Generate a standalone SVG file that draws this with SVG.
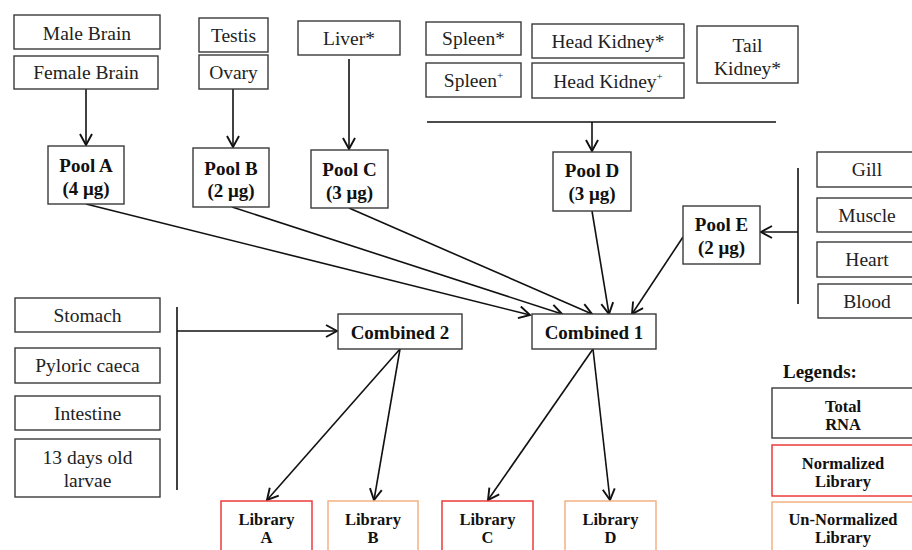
<svg xmlns="http://www.w3.org/2000/svg" width="912" height="550" viewBox="0 0 912 550">
<style>
.box{fill:#fff;stroke:#3a3a3a;stroke-width:1.4}
.red{fill:#fff;stroke:#EE3B3B;stroke-width:1.5}
.org{fill:#fff;stroke:#F4B183;stroke-width:1.5}
.t{font-family:"Liberation Serif","Times New Roman",serif;font-size:19.5px;fill:#222;text-anchor:middle}
.b{font-family:"Liberation Serif","Times New Roman",serif;font-size:19px;font-weight:bold;fill:#111;text-anchor:middle}
.s{font-family:"Liberation Serif","Times New Roman",serif;font-size:16.5px;font-weight:bold;fill:#111;text-anchor:middle}
.ln{stroke:#111;stroke-width:1.6;fill:none}
.ar{stroke:#111;stroke-width:1.6;fill:none;marker-end:url(#ah)}
</style>
<defs>
<marker id="ah" markerUnits="userSpaceOnUse" markerWidth="16" markerHeight="16" viewBox="0 0 16 16" refX="13" refY="8" orient="auto">
<path d="M2,2 L13,8 L2,14" fill="none" stroke="#111" stroke-width="1.9"/>
</marker>
</defs>
<rect width="912" height="550" fill="#fff"/>

<g id="connectors">
<path class="ar" d="M86,89 L86,145"/>
<path class="ar" d="M233,89 L233,147"/>
<path class="ar" d="M349,59 L349,149"/>
<path class="ln" d="M427,122 L776,122"/>
<path class="ar" d="M592,122 L592,151"/>
<path class="ar" d="M86,204 L530,315"/>
<path class="ar" d="M232,207 L562,314"/>
<path class="ar" d="M349,208 L592,314"/>
<path class="ar" d="M592,211 L609,314"/>
<path class="ar" d="M683,237 L632,314"/>
<path class="ln" d="M798,168 L798,304"/>
<path class="ar" d="M798,232 L761,232"/>
<path class="ln" d="M177,307 L177,490"/>
<path class="ar" d="M177,331 L337,331"/>
<path class="ar" d="M400,349 L267,500"/>
<path class="ar" d="M400,349 L374,500"/>
<path class="ar" d="M593,349 L488,500"/>
<path class="ar" d="M593,349 L610,500"/>
</g>

<g id="male-brain"><rect class="box" x="14" y="15" width="146" height="34"/><text class="t" x="87" y="40">Male Brain</text></g>
<g id="female-brain"><rect class="box" x="14" y="56" width="144" height="33"/><text class="t" x="86" y="79">Female Brain</text></g>
<g id="testis"><rect class="box" x="199" y="18" width="69" height="34"/><text class="t" x="233.5" y="42">Testis</text></g>
<g id="ovary"><rect class="box" x="199" y="55" width="69" height="34"/><text class="t" x="233.5" y="79">Ovary</text></g>
<g id="liver"><rect class="box" x="298" y="21" width="102" height="34"/><text class="t" x="349" y="45">Liver*</text></g>
<g id="spleen1"><rect class="box" x="426" y="22" width="95" height="33"/><text class="t" x="473.5" y="45">Spleen*</text></g>
<g id="spleen2"><rect class="box" x="426" y="63" width="95" height="34"/><text class="t" x="473.5" y="87">Spleen<tspan font-size="11" dy="-8">+</tspan></text></g>
<g id="head-kidney1"><rect class="box" x="532" y="24" width="152" height="34"/><text class="t" x="608" y="48">Head Kidney*</text></g>
<g id="head-kidney2"><rect class="box" x="532" y="63" width="152" height="35"/><text class="t" x="608" y="88">Head Kidney<tspan font-size="11" dy="-8">+</tspan></text></g>
<g id="tail-kidney"><rect class="box" x="697" y="26" width="101" height="57"/><text class="t" x="747.5" y="52">Tail</text><text class="t" x="747.5" y="75">Kidney*</text></g>

<g id="pool-a"><rect class="box" x="48" y="146" width="76" height="58"/><text class="b" x="86" y="172">Pool A</text><text class="b" x="86" y="195">(4 μg)</text></g>
<g id="pool-b"><rect class="box" x="193" y="148" width="76" height="59"/><text class="b" x="231" y="175">Pool B</text><text class="b" x="231" y="197">(2 μg)</text></g>
<g id="pool-c"><rect class="box" x="311" y="150" width="77" height="58"/><text class="b" x="349.5" y="176">Pool C</text><text class="b" x="349.5" y="199">(3 μg)</text></g>
<g id="pool-d"><rect class="box" x="553" y="152" width="78" height="59"/><text class="b" x="592" y="177">Pool D</text><text class="b" x="592" y="200">(3 μg)</text></g>
<g id="pool-e"><rect class="box" x="683" y="206" width="77" height="58"/><text class="b" x="721.5" y="231">Pool E</text><text class="b" x="721.5" y="254">(2 μg)</text></g>

<g id="gill"><rect class="box" x="817" y="152" width="100" height="35"/><text class="t" x="867" y="176">Gill</text></g>
<g id="muscle"><rect class="box" x="817" y="198" width="100" height="34"/><text class="t" x="867" y="222">Muscle</text></g>
<g id="heart"><rect class="box" x="817" y="242" width="100" height="35"/><text class="t" x="867" y="266">Heart</text></g>
<g id="blood"><rect class="box" x="818" y="284" width="100" height="34"/><text class="t" x="867" y="308">Blood</text></g>

<g id="stomach"><rect class="box" x="15" y="298" width="145" height="34"/><text class="t" x="87.5" y="322">Stomach</text></g>
<g id="pyloric"><rect class="box" x="15" y="348" width="145" height="35"/><text class="t" x="87.5" y="372">Pyloric caeca</text></g>
<g id="intestine"><rect class="box" x="15" y="396" width="145" height="34"/><text class="t" x="87.5" y="420">Intestine</text></g>
<g id="larvae"><rect class="box" x="15" y="439" width="145" height="58"/><text class="t" x="87.5" y="464">13 days old</text><text class="t" x="87.5" y="487">larvae</text></g>

<g id="combined-2"><rect class="box" x="338" y="314" width="124" height="35"/><text class="b" x="400" y="339">Combined 2</text></g>
<g id="combined-1"><rect class="box" x="532" y="314" width="124" height="35"/><text class="b" x="594" y="339">Combined 1</text></g>

<g id="library-a"><rect class="red" x="221" y="501" width="91" height="60"/><text class="s" x="266.5" y="525">Library</text><text class="s" x="266.5" y="543">A</text></g>
<g id="library-b"><rect class="org" x="328" y="501" width="90" height="60"/><text class="s" x="373" y="525">Library</text><text class="s" x="373" y="543">B</text></g>
<g id="library-c"><rect class="red" x="442" y="501" width="91" height="60"/><text class="s" x="487.5" y="525">Library</text><text class="s" x="487.5" y="543">C</text></g>
<g id="library-d"><rect class="org" x="565" y="501" width="91" height="60"/><text class="s" x="610.5" y="525">Library</text><text class="s" x="610.5" y="543">D</text></g>

<g id="legend">
<text x="783" y="378" font-family="'Liberation Serif','Times New Roman',serif" font-size="19" font-weight="bold" fill="#111">Legends:</text>
<rect class="box" x="772" y="388" width="145" height="50"/><text class="s" x="843" y="412">Total</text><text class="s" x="843" y="430">RNA</text>
<rect class="red" x="772" y="445" width="145" height="51"/><text class="s" x="843" y="469">Normalized</text><text class="s" x="843" y="487">Library</text>
<rect class="org" x="772" y="502" width="145" height="60"/><text class="s" x="843" y="525">Un-Normalized</text><text class="s" x="843" y="543">Library</text>
</g>
</svg>
